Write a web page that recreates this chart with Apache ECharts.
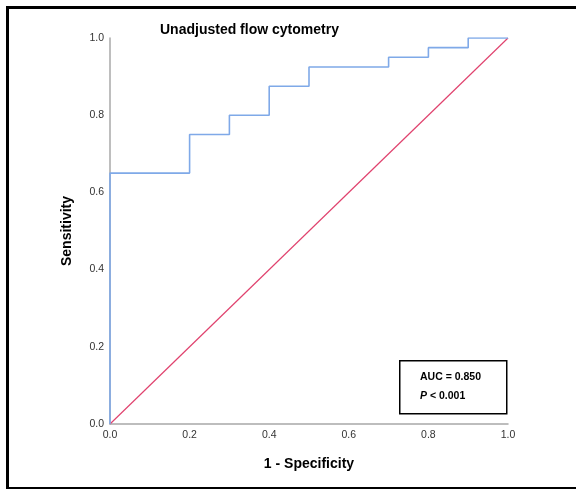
<!DOCTYPE html>
<html><head><meta charset="utf-8">
<script src="https://cdn.jsdelivr.net/npm/echarts@6/dist/echarts.min.js"></script>
<style>html,body{margin:0;padding:0;background:#fff;}#c{width:576px;height:489px;}</style>
</head><body><div id="c"></div>
<script>
const fpr = [0, 0, 0.2, 0.3, 0.4, 0.5, 0.7, 0.8, 0.9, 1.0];
const tpr = [0, 0.65, 0.75, 0.8, 0.875, 0.925, 0.95, 0.975, 1.0, 1.0];
const refX = [0, 1];
const refY = [0, 1];
const axisTicks = [0, 0.2, 0.4, 0.6, 0.8, 1.0];
const titleText = 'Unadjusted flow cytometry';
const xName = '1 - Specificity';
const yName = 'Sensitivity';
const aucText = 'AUC = 0.850';

const chart = echarts.init(document.getElementById('c'));
const font = 'Liberation Sans, Arial, sans-serif';
chart.setOption({
  animation: false,
  backgroundColor: '#fff',
  title: {text: titleText, left: 155, top: 18, textStyle: {fontFamily: font, fontSize: 14, fontWeight: 'bold', color: '#000'}},
  grid: {left: 110, right: 68, top: 38, bottom: 65},
  xAxis: {
    type: 'value', min: 0, max: 1, interval: 0.2,
    name: xName, nameLocation: 'middle', nameGap: 33,
    nameTextStyle: {fontFamily: font, fontSize: 14, fontWeight: 'bold', color: '#000'},
    axisLine: {show: true, lineStyle: {color: '#a8a8a8', width: 1.5}},
    axisTick: {show: false}, splitLine: {show: false},
    axisLabel: {fontFamily: font, fontSize: 10.5, color: '#333', margin: 6, formatter: v => v.toFixed(1)}
  },
  yAxis: {
    type: 'value', min: 0, max: 1, interval: 0.2,
    name: yName, nameLocation: 'middle', nameGap: 36,
    nameTextStyle: {fontFamily: font, fontSize: 14, fontWeight: 'bold', color: '#000'},
    axisLine: {show: true, lineStyle: {color: '#a8a8a8', width: 1.5}},
    axisTick: {show: false}, splitLine: {show: false},
    axisLabel: {fontFamily: font, fontSize: 10.5, color: '#333', margin: 6, formatter: v => v.toFixed(1)}
  },
  series: [
    {type: 'line', data: refX.map((x, i) => [x, refY[i]]), symbol: 'none', lineStyle: {color: '#e0426e', width: 1.2}, z: 3},
    {type: 'line', step: 'end', data: fpr.map((x, i) => [x, tpr[i]]), symbol: 'none', lineStyle: {color: '#7fa9e8', width: 1.6}, z: 4}
  ],
  graphic: [
    {type: 'rect', left: 5, top: 5, shape: {width: 600, height: 481}, style: {fill: 'none', stroke: '#000', lineWidth: 3}, silent: true},
    {type: 'rect', left: 399, top: 360, shape: {width: 107, height: 53}, style: {fill: '#fff', stroke: '#000', lineWidth: 1.5}, z: 10},
    {type: 'text', left: 420, top: 372, style: {text: aucText, font: 'bold 10.5px ' + font, fill: '#000'}, z: 11},
    {type: 'text', left: 420, top: 391, style: {text: '{i|P} < 0.001', rich: {i: {fontStyle: 'italic', fontWeight: 'bold', fontSize: 10.5, fontFamily: font}}, font: 'bold 10.5px ' + font, fill: '#000'}, z: 11}
  ]
});
</script></body></html>
